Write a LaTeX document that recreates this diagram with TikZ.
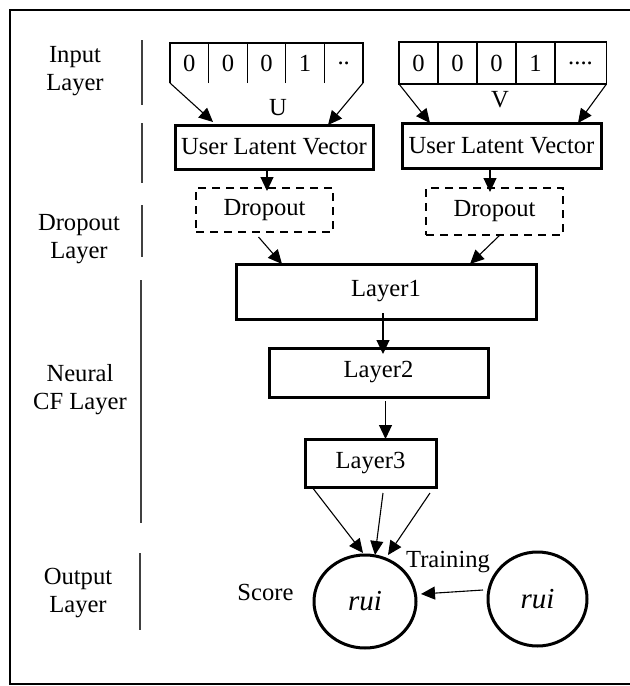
\documentclass[tikz,border=0pt]{standalone}
\usepackage{fontspec}
\setmainfont{Liberation Serif}
\usetikzlibrary{arrows.meta,shapes.geometric}

\begin{document}
\begin{tikzpicture}[x=0.5pt,y=-0.5pt,
    every node/.style={font=\fontsize{12.3}{14}\selectfont},
    cell/.style={minimum width=19.3pt,minimum height=20pt,inner sep=0pt,outer sep=0pt},
    vcell/.style={draw,line width=0.6pt,minimum width=19.5pt,minimum height=21pt,inner sep=0pt,outer sep=0pt},
    box/.style={draw,line width=1.5pt,inner sep=0pt,outer sep=0pt},
    dropbox/.style={draw,line width=1.3pt,dash pattern=on 4pt off 3pt,inner sep=0pt,outer sep=0pt},
    rating/.style={draw,ellipse,line width=1.5pt,inner sep=0pt,outer sep=0pt,
        font=\fontsize{14.5}{16}\selectfont\itshape},
    arr/.style={-{Triangle[length=7pt,width=6.5pt]},line width=0.55pt},
    sep/.style={line width=0.7pt,black!75},
    lbl/.style={align=center}]

    \useasboundingbox (0,0) rectangle (630,686);
    \clip (0,0) rectangle (630,686);

    % outer frame
    \draw[line width=1.4pt] (640,10) -- (10,10) -- (10,684) -- (640,684);

    % the layer names on the left
    \node[lbl] (inlab) at (75,71) {Input\\Layer};
    \node[lbl] (droplab) at (79,239) {Dropout\\Layer};
    \node[lbl] (cflab) at (80,390) {Neural\\CF Layer};
    \node[lbl] (outlab) at (78,593) {Output\\Layer};

    \draw[sep] (142,40) -- (142,105);
    \draw[sep] (142,123) -- (142,183);
    \draw[sep] (142,205) -- (142,257);
    \draw[sep] (141,280) -- (141,523);
    \draw[sep] (140,553) -- (140,630);

    % these are the input vectors
    \node[cell] (u1) at (189.3,63) {0};
    \node[cell] (u2) at (227.9,63) {0};
    \node[cell] (u3) at (266.5,63) {0};
    \node[cell] (u4) at (305.1,63) {1};
    \node[cell] (u5) at (343.7,63) {..};
    \draw[line width=0.6pt] (u1.south west) |- (u5.north east) -- (u5.south east);
    \draw[line width=0.6pt] (u1.south east) -- (u1.north east);
    \draw[line width=0.6pt] (u2.south east) -- (u2.north east);
    \draw[line width=0.6pt] (u3.south east) -- (u3.north east);
    \draw[line width=0.6pt] (u4.south east) -- (u4.north east);

    \node[vcell] (v1) at (418.5,63) {0};
    \node[vcell] (v2) at (457.5,63) {0};
    \node[vcell] (v3) at (496.5,63) {0};
    \node[vcell] (v4) at (535.5,63) {1};
    \node[vcell,minimum width=26pt] (v5) at (580.5,63) {....};

    \node (ulab) at (278,108) {U};
    \node (vlab) at (500,100) {V};

    % latent vectors and dropout
    \node[box,minimum width=99pt,minimum height=22pt] (lu) at (274,147) {User Latent Vector};
    \node[box,minimum width=99.5pt,minimum height=22.5pt] (lv) at (501.5,145.5) {User Latent Vector};
    \node[dropbox,minimum width=68.5pt,minimum height=22pt] (du) at (264.5,210) {Dropout};
    \node[dropbox,minimum width=68.5pt,minimum height=23.5pt] (dv) at (494.5,211.5) {Dropout};

    % the neural CF layers
    \node[box,minimum width=150pt,minimum height=27.5pt] (l1) at (386,291.5) {Layer1};
    \node[box,minimum width=109.5pt,minimum height=24.5pt] (l2) at (378.5,372.5) {Layer2};
    \node[box,minimum width=65.5pt,minimum height=24pt] (l3) at (370.5,463) {Layer3};

    % output
    \node[rating,minimum width=51pt,minimum height=46.5pt] (score) at (365,601.5) {rui};
    \node[rating,minimum width=49.5pt,minimum height=47pt] (truth) at (537.5,599) {rui};
    \node (scorelab) at (265.5,592) {Score};
    \node (trainlab) at (448,562) {Training};

    % arrows
    \draw[arr] (u1.south west) -- ([xshift=19pt,yshift=1.5pt]lu.north west);
    \draw[arr] (u5.south east) -- ([xshift=-22.5pt]lu.north east);
    \draw[arr] (v1.south west) -- ([xshift=14pt]lv.north west);
    \draw[arr] (v5.south east) -- ([xshift=-11.5pt]lv.north east);

    \draw[arr] ([xshift=-3.5pt]lu.south) -- ([xshift=1.25pt,yshift=-1.5pt]du.north);
    \draw[arr] ([xshift=-5.75pt]lv.south) -- ([xshift=-2.25pt,yshift=-2pt]dv.north);

    \draw[arr] ([xshift=-3pt,yshift=-2.5pt]du.south) -- ([xshift=-52pt]l1.north);
    \draw[arr] ([xshift=2.75pt]dv.south) -- ([xshift=42pt]l1.north);

    \draw[arr] ([xshift=-1.5pt,yshift=3pt]l1.south) -- ([xshift=2.25pt,yshift=-3pt]l2.north);
    \draw[arr] ([xshift=3.5pt,yshift=-2pt]l2.south) -- ([xshift=7.5pt]l3.north);

    \draw[arr] ([xshift=3.5pt]l3.south west) -- ([xshift=-1pt,yshift=1pt]score.north);
    \draw[arr] ([xshift=6.25pt,yshift=-3pt]l3.south) -- ([xshift=5pt]score.north);
    \draw[arr] ([xshift=-3pt,yshift=-3pt]l3.south east) -- ([xshift=11.5pt]score.north);

    \draw[arr] ([xshift=-2.5pt,yshift=4.5pt]truth.west) -- ([xshift=2.5pt,yshift=3.75pt]score.east);

\end{tikzpicture}
\end{document}
